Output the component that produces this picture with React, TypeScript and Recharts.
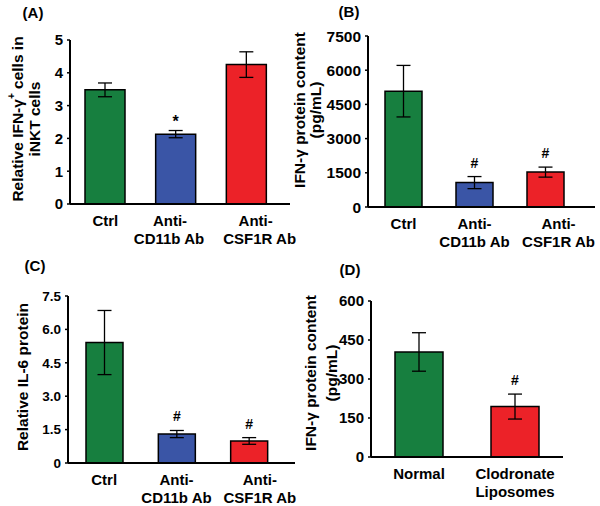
import { Bar, BarChart, Cell, ErrorBar, LabelList, XAxis, YAxis } from 'recharts'

const GREEN = '#177f3f'
const BLUE = '#3a55a6'
const RED = '#ec2228'
const FONT = '"Liberation Sans", Arial, sans-serif'

// panel A
const aCats = ['Ctrl', 'Anti-|CD11b Ab', 'Anti-|CSF1R Ab']
const aMeans = [3.48, 2.13, 4.25]
const aErr = [0.21, 0.11, 0.39]
const aMarks = ['', '*', '']
const aTicks = [0, 1, 2, 3, 4, 5]

// panel B
const bCats = ['Ctrl', 'Anti-|CD11b Ab', 'Anti-|CSF1R Ab']
const bMeans = [5080, 1070, 1530]
const bErr = [1130, 265, 220]
const bMarks = ['', '#', '#']
const bTicks = [0, 1500, 3000, 4500, 6000, 7500]

// panel C
const cCats = ['Ctrl', 'Anti-|CD11b Ab', 'Anti-|CSF1R Ab']
const cMeans = [5.41, 1.3, 0.99]
const cErr = [1.44, 0.16, 0.15]
const cMarks = ['', '#', '#']
const cTicks = [0, 1.5, 3, 4.5, 6, 7.5]

// panel D
const dCats = ['Normal', 'Clodronate|Liposomes']
const dMeans = [404, 194]
const dErr = [74, 48]
const dMarks = ['', '#']
const dTicks = [0, 150, 300, 450, 600]

const threeColors = [GREEN, BLUE, RED]
const twoColors = [GREEN, RED]

type TitleLine = { x: number; text: React.ReactNode }

type PanelProps = {
  left: number
  top: number
  width: number
  letter: string
  letterX: number
  letterY: number
  cats: string[]
  means: number[]
  errs: number[]
  marks: string[]
  colors: string[]
  ticks: number[]
  tickFmt?: (v: number) => string
  tickFont: number
  plotLeft: number
  plotTop: number
  plotBottom: number
  right: number
  padRight: number
  barSize: number
  labelShift?: number[][]
  titleLines: TitleLine[]
  titleY: number
}

const H = 253

function Panel(p: PanelProps) {
  const data = p.cats.map((c, i) => ({ name: c, value: p.means[i], err: p.errs[i], mark: p.marks[i] }))

  const renderTick = (props: any) => {
    const { x, y, payload, index } = props
    const lines = String(payload.value).split('|')
    const shift = p.labelShift?.[index] ?? [0, 0]
    return (
      <text y={y} textAnchor="middle" fontSize={15} fontWeight="bold" fill="#000" fontFamily={FONT}>
        {lines.map((l, i) => (
          <tspan key={i} x={x + (shift[i] ?? 0)} dy={i === 0 ? 22 : 17.5}>
            {l}
          </tspan>
        ))}
      </text>
    )
  }

  const renderMark = (props: any) => {
    const { x, y, width, height, index } = props
    const m = p.marks[index]
    if (!m) return null
    const errPx = (p.errs[index] / p.means[index]) * height
    const off = m === '*' ? 4 : 9
    return (
      <text
        x={x + width / 2}
        y={y - errPx - off}
        textAnchor="middle"
        fontSize={m === '*' ? 16 : 14}
        fontWeight="bold"
        fill="#000"
        fontFamily={FONT}
      >
        {m}
      </text>
    )
  }

  const renderTitle = () => (
    <g fontFamily={FONT} fontWeight="bold" fill="#000">
      <text x={p.letterX} y={p.letterY} textAnchor="middle" fontSize={15}>
        {p.letter}
      </text>
      {p.titleLines.map((t, i) => (
        <text
          key={i}
          transform={`translate(${t.x},${p.titleY}) rotate(-90)`}
          textAnchor="middle"
          dominantBaseline="central"
          fontSize={15.5}
        >
          {t.text}
        </text>
      ))}
    </g>
  )

  return (
    <div style={{ position: 'absolute', left: p.left, top: p.top }}>
      <BarChart
        width={p.width}
        height={H}
        data={data}
        margin={{ top: p.plotTop, right: p.right, bottom: 0, left: 0 }}
      >
        <XAxis
          dataKey="name"
          interval={0}
          tickLine={false}
          tickSize={0}
          tickMargin={0}
          height={H - p.plotBottom}
          tick={renderTick}
          axisLine={{ stroke: '#000', strokeWidth: 2 }}
          padding={{ left: 0, right: p.padRight }}
        />
        <YAxis
          width={p.plotLeft}
          domain={[0, p.ticks[p.ticks.length - 1]]}
          ticks={p.ticks}
          interval={0}
          tickFormatter={p.tickFmt}
          tickSize={3}
          tickMargin={4}
          tick={{ fill: '#000', fontSize: p.tickFont, fontWeight: 'bold', fontFamily: FONT }}
          tickLine={{ stroke: '#000', strokeWidth: 1.5 }}
          axisLine={{ stroke: '#000', strokeWidth: 2 }}
          label={{ value: ' ', content: renderTitle }}
        />
        <Bar dataKey="value" barSize={p.barSize} stroke="#000" strokeWidth={1.5} isAnimationActive={false}>
          {data.map((d, i) => (
            <Cell key={d.name} fill={p.colors[i]} />
          ))}
          <ErrorBar dataKey="err" width={7} stroke="#000" strokeWidth={1.3} />
          <LabelList dataKey="mark" content={renderMark} />
        </Bar>
      </BarChart>
    </div>
  )
}

export default function App() {
  return (
    <div style={{ position: 'absolute', left: 0, top: 0, width: 600, height: 506, background: '#fff' }}>
      <Panel
        left={0}
        top={0}
        width={300}
        letter="(A)"
        letterX={33}
        letterY={18}
        cats={aCats}
        means={aMeans}
        errs={aErr}
        marks={aMarks}
        colors={threeColors}
        ticks={aTicks}
        tickFont={15}
        plotLeft={70}
        plotTop={40}
        plotBottom={204}
        right={10}
        padRight={8}
        barSize={40}
        labelShift={[[0, 0], [-6, -7], [9, 13]]}
        titleY={119}
        titleLines={[
          {
            x: 17,
            text: (
              <>
                Relative IFN-γ<tspan fontSize={10} dy={-6}>+</tspan>
                <tspan dy={6}> cells in</tspan>
              </>
            ),
          },
          { x: 34, text: 'iNKT cells' },
        ]}
      />
      <Panel
        left={285}
        top={0}
        width={315}
        letter="(B)"
        letterX={64}
        letterY={17}
        cats={bCats}
        means={bMeans}
        errs={bErr}
        marks={bMarks}
        colors={threeColors}
        ticks={bTicks}
        tickFont={15.5}
        plotLeft={83}
        plotTop={36}
        plotBottom={207}
        right={5}
        padRight={14}
        barSize={37}
        labelShift={[[0, 0], [0, 0], [13, 13]]}
        titleY={110}
        titleLines={[
          { x: 14, text: 'IFN-γ protein content' },
          { x: 30, text: '(pg/mL)' },
        ]}
      />
      <Panel
        left={0}
        top={253}
        width={300}
        letter="(C)"
        letterX={35}
        letterY={18}
        cats={cCats}
        means={cMeans}
        errs={cErr}
        marks={cMarks}
        colors={threeColors}
        ticks={cTicks}
        tickFmt={(v: number) => (v === 0 ? '0' : v.toFixed(1))}
        tickFont={13.5}
        plotLeft={68}
        plotTop={43}
        plotBottom={210}
        right={5}
        padRight={10}
        barSize={37}
        labelShift={[[0, 0], [0, 0], [11, 11]]}
        titleY={124}
        titleLines={[{ x: 22, text: 'Relative IL-6 protein' }]}
      />
      <Panel
        left={300}
        top={253}
        width={300}
        letter="(D)"
        letterX={50}
        letterY={22}
        cats={dCats}
        means={dMeans}
        errs={dErr}
        marks={dMarks}
        colors={twoColors}
        ticks={dTicks}
        tickFont={15}
        plotLeft={71}
        plotTop={48}
        plotBottom={204}
        right={37}
        padRight={0}
        barSize={48}
        titleY={120}
        titleLines={[
          { x: 10, text: 'IFN-γ protein content' },
          { x: 31, text: '(pg/mL)' },
        ]}
      />
    </div>
  )
}
